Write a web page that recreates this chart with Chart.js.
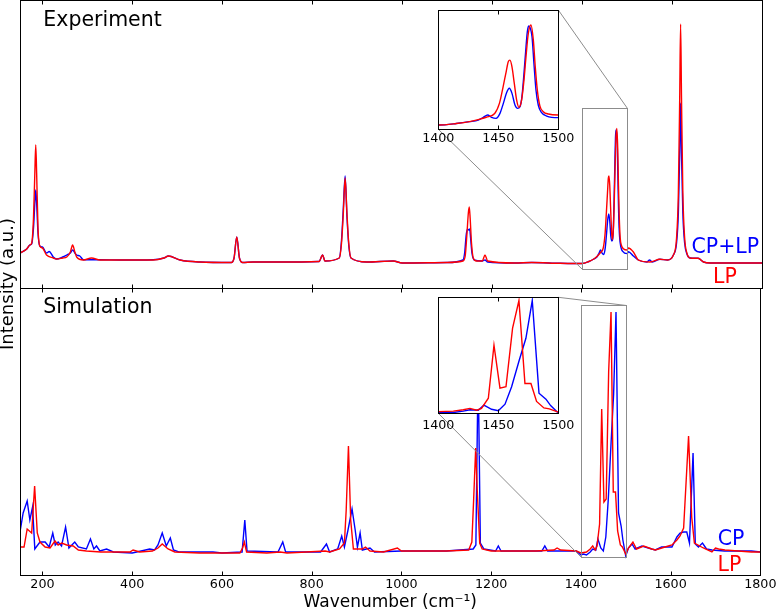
<!DOCTYPE html>
<html lang="en">
<head>
<meta charset="UTF-8">
<title>Raman spectra: experiment vs simulation</title>
<script src="https://cdn.jsdelivr.net/npm/chart.js@4.4.0/dist/chart.umd.min.js"></script>
<style>
    html, body { margin: 0; padding: 0; background: #fff; }
    #wrap { position: relative; width: 779px; height: 612px; overflow: hidden; background: #fff; }
    #wrap canvas { position: absolute; }
</style>
</head>
<body>
<div id="wrap">
    <canvas id="expChart" width="779" height="612" style="left:0;top:0"></canvas>
    <canvas id="simChart" width="779" height="612" style="left:0;top:0"></canvas>
    <canvas id="expInset" width="180" height="160" style="left:400px;top:0"></canvas>
    <canvas id="simInset" width="180" height="160" style="left:400px;top:280px"></canvas>
</div>

<script>
    // ---- data (wavenumber in cm-1, intensity in a.u.) ----
    const xTicks = [200, 400, 600, 800, 1000, 1200, 1400, 1600, 1800];
    const insetTicks = [1400, 1450, 1500];

    // Experiment, LP (red)
    const expLpWn = [150, 165, 172, 176, 180, 183, 185, 187, 190, 194,
        200, 209, 224, 231, 245, 254, 262, 267, 272, 276,
        291, 309, 328, 372, 446, 470, 480, 506, 550, 620,
        626, 632, 638, 645, 668, 721, 815, 823, 828, 860,
        865, 869, 873, 877, 881, 886, 921, 980, 1000, 1100,
        1135, 1140, 1144, 1147, 1149, 1151, 1154, 1158, 1165, 1178,
        1184, 1190, 1250, 1288, 1350, 1380, 1400, 1415, 1426, 1434,
        1440, 1447, 1451, 1454, 1456.5, 1458.3, 1459.7, 1461.4, 1463.3, 1465.3,
        1467.2, 1469.4, 1471.4, 1473.1, 1475, 1477.2, 1479.2, 1480.8, 1482.5, 1484.7,
        1487.5, 1491.7, 1500, 1503, 1514, 1525, 1551, 1573, 1590, 1603,
        1610, 1614, 1617, 1619, 1621, 1624, 1628, 1633, 1640, 1658,
        1670, 1685, 1800];
    const expLpVal = [35, 39, 43, 45, 70, 115, 143, 115, 60, 42,
        40, 33, 30, 29, 30, 31, 36, 43, 36, 31,
        28, 30, 28, 28, 28, 30, 32, 28, 26, 25.5,
        30, 51, 30, 25.5, 26, 26, 26.5, 33, 27, 30,
        45, 75, 110, 75, 45, 30, 26, 27, 25, 25.5,
        27, 32, 55, 75, 81, 70, 45, 30, 27, 27,
        33, 27, 25, 25.5, 24.7, 24.5, 24.5, 26.5, 29, 32,
        35, 40, 54, 76, 96, 110, 112, 103, 81, 58,
        48.3, 58, 85, 117, 148, 159.5, 139, 103, 72, 50,
        42.5, 39.3, 38, 40, 36, 28, 26, 28.7, 28, 33,
        50, 95, 190, 264, 190, 95, 50, 35, 30, 29.7,
        26, 25, 25];

    // Experiment, CP+LP (blue)
    const expCpWn = [150, 165, 172, 176, 180, 183, 185, 187, 190, 194,
        200, 209, 215, 224, 231, 245, 254, 262, 267, 272,
        276, 283, 291, 328, 372, 446, 470, 480, 506, 550,
        620, 626, 632, 638, 645, 668, 721, 815, 823, 828,
        860, 865, 869, 873, 877, 881, 886, 921, 980, 1000,
        1100, 1135, 1139, 1142, 1145, 1148, 1150, 1152, 1155, 1160,
        1178, 1184, 1190, 1250, 1288, 1350, 1380, 1400, 1415, 1426,
        1433.3, 1437.5, 1441.1, 1444.4, 1448.1, 1451.4, 1454.2, 1456.9, 1459.2, 1461.4,
        1463.9, 1466.1, 1468.1, 1469.7, 1471.4, 1473.1, 1474.2, 1475.3, 1476.7, 1478.1,
        1479.7, 1481.4, 1483.3, 1486.1, 1490.3, 1500, 1503, 1514, 1525, 1544,
        1550, 1556, 1573, 1590, 1603, 1610, 1614, 1617, 1619, 1621,
        1624, 1628, 1633, 1640, 1658, 1670, 1685, 1800];
    const expCpVal = [35, 39, 43, 44, 60, 85, 98, 85, 55, 42,
        41, 35, 36.5, 31, 29, 31, 33, 35, 38, 35,
        33, 32, 28.3, 28.3, 28, 28.3, 30, 32, 28, 26,
        25.5, 30, 51, 30, 25.5, 26, 26, 26.5, 33, 27,
        30, 48, 80, 112, 72, 43, 30, 26, 27, 25,
        25.5, 28, 36, 52, 59, 58, 59, 50, 35, 28,
        27, 28, 26, 25, 25.5, 24.7, 24.5, 24.5, 26.5, 29,
        31.2, 34.8, 38, 34.8, 33.5, 40.2, 53.7, 68.1, 74, 67.2,
        51.5, 47, 49.2, 62.7, 94.2, 130.2, 150.5, 158.1, 155, 143.7,
        107.7, 71.7, 51.5, 41.1, 36.6, 34.4, 36.3, 32, 28, 26,
        28, 26, 28.7, 28, 33, 45, 75, 135, 185, 135,
        75, 45, 34, 30, 29.7, 26, 25, 25];

    // Simulation, LP (red)
    const simLpWn = [150, 159, 166, 176, 182.6, 188.5, 194.5, 206, 217, 228, 235, 243, 254, 268.5, 280, 298, 330, 395, 402, 417,
        445, 457.5, 467, 480, 495, 550, 640, 646, 650, 655, 700, 730, 745, 830, 840, 862, 873, 877, 882, 887,
        893, 913, 920, 930, 960, 991, 1000, 1100, 1150, 1157, 1161, 1165.6, 1169, 1174.5, 1180, 1200, 1300, 1340, 1347, 1355,
        1390, 1400, 1412.5, 1420.8, 1426.4, 1432, 1436, 1441.7, 1446.4, 1451.4, 1456.4, 1461.9, 1467.2, 1472.2, 1477.2, 1481.9, 1488, 1492.5, 1500, 1506,
        1516, 1524, 1540, 1558, 1566, 1595, 1603, 1614, 1621, 1629, 1640, 1647, 1653, 1673, 1692, 1700, 1707, 1721, 1780, 1800];
    const simLpVal = [28, 28, 46, 42, 89, 42, 33, 28, 27, 34, 30, 32, 30, 29, 25, 24, 23, 23, 25, 23,
        24, 27, 31, 26, 23, 22, 22, 27, 33, 23, 22, 23, 22, 24, 23, 26, 32, 65, 129, 55,
        26, 26, 28, 24, 23, 27, 24, 24, 25, 33, 75, 127, 85, 32, 26, 24, 24, 25, 27, 25,
        24, 22, 23, 26, 29, 25, 29, 51, 166, 73, 76, 203, 263, 83, 83, 44, 30, 28, 21, 27,
        33, 26, 29, 26, 25, 29, 30, 35, 39, 47, 139, 58, 32, 27, 23, 27, 26, 25, 23, 23];

    // Simulation, CP (blue)
    const simCpWn = [150, 157, 166, 172, 178, 183, 194.5, 206, 215, 223, 228.6, 235, 242.6, 251.6, 259, 272, 280, 298, 307, 314.6,
        320.5, 328, 343, 358, 400, 420, 439, 450, 457.5, 467, 476, 485, 492, 504, 580, 600, 645, 651, 656, 725,
        735.6, 742, 820, 833, 840, 858, 867, 873, 881, 890, 897, 902, 908, 913, 930, 940, 1000, 1100, 1160, 1166,
        1171, 1176, 1184, 1210, 1216, 1222, 1313, 1319.6, 1326, 1390, 1400, 1405.6, 1412.5, 1420.8, 1426.4, 1433.3, 1438, 1444.4, 1450, 1455.6,
        1461.1, 1467.5, 1473, 1478.3, 1483.9, 1489.7, 1493.6, 1500, 1506, 1514, 1521, 1536, 1558, 1566, 1580, 1603, 1614, 1621, 1629, 1636,
        1642, 1650, 1655, 1662, 1671, 1680, 1692, 1720, 1780, 1800];
    const simCpVal = [43, 62, 74, 55, 68, 26, 33, 33, 28, 42, 30, 33, 29, 48, 27, 33, 28, 26, 36, 26,
        29, 24, 26, 23, 22, 24, 26, 25, 30, 42, 29, 37, 25, 23, 23, 22, 23, 55, 24, 23,
        33, 23, 23, 31, 23, 26, 39, 28, 45, 66, 45, 28, 42, 25, 27, 23, 24, 24, 26, 30,
        210, 32, 26, 24, 29, 24, 24, 29, 24, 24, 20, 21, 20, 23, 26, 25, 36, 27, 24, 38,
        76, 134, 181, 263, 62, 49, 35, 19, 27, 31, 26, 29, 26, 25, 28, 28, 38, 42, 43, 43,
        32, 122, 31, 28, 32, 26, 25, 24, 24, 23];

    // axis ranges; inset windows are the zoomed boxes of the main panels
    const wnRange = [150, 1800];
    const expRange = [0, 288];
    const simRange = [0, 287];
    const insetWn = [1400, 1500];
    const expInsetRange = [18.7, 179.7];
    const simInsetRange = [18.3, 270];

    const FONT = "'DejaVu Sans', sans-serif";
    const RED = '#ff0000';
    const BLUE = '#0000ff';

    function lineSet(xs, ys, color, smooth) {
        return {
            data: xs.map((v, i) => ({ x: v, y: ys[i] })),
            borderColor: color,
            borderWidth: 1.4,
            pointRadius: 0,
            tension: 0,
            cubicInterpolationMode: smooth ? 'monotone' : 'default',
            fill: false,
            clip: 0
        };
    }

    function xAxis(range, ticks, show, tickPad, height, title) {
        return {
            type: 'linear',
            min: range[0],
            max: range[1],
            display: show,
            afterBuildTicks: axis => { axis.ticks = ticks.map(v => ({ value: v })); },
            afterFit: axis => { if (height) axis.height = height; },
            grid: { display: false, drawTicks: false },
            border: { display: false },
            ticks: {
                font: { family: FONT, size: 12.7, lineHeight: 1.2 },
                color: '#000',
                padding: tickPad,
                maxRotation: 0,
                autoSkip: false,
                callback: v => String(v)
            },
            title: title ? {
                display: true,
                text: title,
                color: '#000',
                font: { family: FONT, size: 17, lineHeight: 1.1 },
                padding: 0
            } : { display: false }
        };
    }

    // frame + inward ticks on top and bottom edges
    function framePlugin(ticks, tickLen) {
        return {
            id: 'frame',
            afterDraw(chart) {
                const { ctx, chartArea: a, scales: { x } } = chart;
                const l = Math.round(a.left) + 0.5, r = Math.round(a.right) + 0.5;
                const t = Math.round(a.top) + 0.5, b = Math.round(a.bottom) + 0.5;
                ctx.save();
                ctx.strokeStyle = '#000';
                ctx.lineWidth = 1;
                ctx.beginPath();
                ticks.forEach(v => {
                    const px = Math.round(x.getPixelForValue(v)) + 0.5;
                    ctx.moveTo(px, b); ctx.lineTo(px, b - tickLen);
                    ctx.moveTo(px, t); ctx.lineTo(px, t + tickLen);
                });
                ctx.stroke();
                ctx.strokeRect(l, t, r - l, b - t);
                ctx.restore();
            }
        };
    }

    function textPlugin(labels) {
        return {
            id: 'labels',
            afterDraw(chart) {
                const ctx = chart.ctx;
                ctx.save();
                labels.forEach(l => {
                    ctx.font = l.size + 'px ' + FONT;
                    ctx.fillStyle = l.color;
                    ctx.textAlign = l.align;
                    ctx.textBaseline = 'alphabetic';
                    ctx.fillText(l.text, l.x, l.y);
                });
                ctx.restore();
            }
        };
    }

    // zoom rectangle in the panel + connector lines to the inset corners
    function zoomBoxPlugin(inset, yRange) {
        return {
            id: 'zoomBox',
            afterDatasetsDraw(chart) {
                const { ctx, scales: { x, y } } = chart;
                const x0 = Math.round(x.getPixelForValue(insetWn[0])) + 0.5;
                const x1 = Math.round(x.getPixelForValue(insetWn[1])) + 0.5;
                const y0 = Math.round(y.getPixelForValue(yRange[1])) + 0.5;
                const y1 = Math.round(y.getPixelForValue(yRange[0])) + 0.5;
                const c = inset.canvas, a = inset.chartArea;
                const il = c.offsetLeft + a.left, ir = c.offsetLeft + a.right;
                const it = c.offsetTop + a.top, ib = c.offsetTop + a.bottom;
                ctx.save();
                ctx.strokeStyle = '#8c8c8c';
                ctx.lineWidth = 1;
                ctx.strokeRect(x0, y0, x1 - x0, y1 - y0);
                ctx.beginPath();
                ctx.moveTo(ir, it); ctx.lineTo(x1, y0);
                ctx.moveTo(il, ib); ctx.lineTo(x0, y1);
                ctx.stroke();
                ctx.restore();
            }
        };
    }

    const whiteBg = {
        id: 'whiteBg',
        beforeDraw(chart) {
            const { ctx, chartArea: a } = chart;
            ctx.save();
            ctx.fillStyle = '#fff';
            ctx.fillRect(a.left, a.top, a.right - a.left, a.bottom - a.top);
            ctx.restore();
        }
    };

    const yTitle = {
        id: 'yTitle',
        afterDraw(chart) {
            const ctx = chart.ctx;
            ctx.save();
            ctx.translate(8.5, 284);
            ctx.rotate(-Math.PI / 2);
            ctx.font = '18px ' + FONT;
            ctx.fillStyle = '#000';
            ctx.textAlign = 'center';
            ctx.textBaseline = 'middle';
            ctx.fillText('Intensity (a.u.)', 0, 0);
            ctx.restore();
        }
    };

    function baseOptions(padding, scales) {
        return {
            responsive: false,
            animation: false,
            events: [],
            layout: { padding: padding },
            scales: scales,
            plugins: { legend: { display: false }, tooltip: { enabled: false } }
        };
    }

    // insets first, so the main panels can find their corners
    const expInset = new Chart(document.getElementById('expInset'), {
        type: 'line',
        data: { datasets: [lineSet(expLpWn, expLpVal, RED, true), lineSet(expCpWn, expCpVal, BLUE, true)] },
        options: baseOptions({ left: 38.3, right: 21.7, top: 10, bottom: 10.7 }, {
            x: xAxis(insetWn, insetTicks, true, 1.8, 20),
            y: { type: 'linear', display: false, min: expInsetRange[0], max: expInsetRange[1] }
        }),
        plugins: [whiteBg, framePlugin(insetTicks, 4)]
    });

    const simInset = new Chart(document.getElementById('simInset'), {
        type: 'line',
        data: { datasets: [lineSet(simLpWn, simLpVal, RED, false), lineSet(simCpWn, simCpVal, BLUE, false)] },
        options: baseOptions({ left: 38.3, right: 21.7, top: 17.3, bottom: 6.7 }, {
            x: xAxis(insetWn, insetTicks, true, 5.1, 20),
            y: { type: 'linear', display: false, min: simInsetRange[0], max: simInsetRange[1] }
        }),
        plugins: [whiteBg, framePlugin(insetTicks, 4)]
    });

    new Chart(document.getElementById('expChart'), {
        type: 'line',
        data: { datasets: [lineSet(expLpWn, expLpVal, RED, true), lineSet(expCpWn, expCpVal, BLUE, true)] },
        options: baseOptions({ left: 20, right: 17, top: 0, bottom: 324 }, {
            x: xAxis(wnRange, xTicks, false, 3, 0),
            y: { type: 'linear', display: false, min: expRange[0], max: expRange[1] }
        }),
        plugins: [
            framePlugin(xTicks, 4),
            zoomBoxPlugin(expInset, expInsetRange),
            textPlugin([
                { text: 'Experiment', x: 43.3, y: 26, size: 20.5, color: '#000', align: 'left' },
                { text: 'CP+LP', x: 725.3, y: 253.3, size: 20.5, color: BLUE, align: 'center' },
                { text: 'LP', x: 725, y: 283.3, size: 20.5, color: RED, align: 'center' }
            ])
        ]
    });

    new Chart(document.getElementById('simChart'), {
        type: 'line',
        data: { datasets: [lineSet(simLpWn, simLpVal, RED, false), lineSet(simCpWn, simCpVal, BLUE, false)] },
        options: baseOptions({ left: 20, right: 17, top: 288, bottom: 0 }, {
            x: xAxis(wnRange, xTicks, true, 2.5, 37, 'Wavenumber (cm\u207B\u00B9)'),
            y: { type: 'linear', display: false, min: simRange[0], max: simRange[1] }
        }),
        plugins: [
            framePlugin(xTicks, 4),
            zoomBoxPlugin(simInset, simInsetRange),
            yTitle,
            textPlugin([
                { text: 'Simulation', x: 43.3, y: 313.3, size: 20.5, color: '#000', align: 'left' },
                { text: 'CP', x: 731, y: 545, size: 20.5, color: BLUE, align: 'center' },
                { text: 'LP', x: 729.5, y: 571, size: 20.5, color: RED, align: 'center' }
            ])
        ]
    });
</script>
</body>
</html>
